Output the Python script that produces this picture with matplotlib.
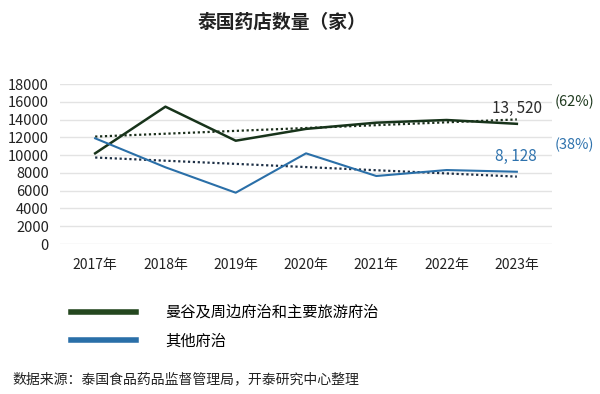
import numpy as np
import matplotlib.pyplot as plt
from matplotlib.lines import Line2D

plt.rcParams['font.family'] = ['Noto Sans CJK SC', 'DejaVu Sans']

# 数据
years = ['2017年', '2018年', '2019年', '2020年', '2021年', '2022年', '2023年']
bangkok = [10200, 15450, 11620, 12950, 13650, 13950, 13520]
others = [11890, 8630, 5770, 10200, 7650, 8320, 8128]
series_names = ['曼谷及周边府治和主要旅游府治', '其他府治']
yticks = [0, 2000, 4000, 6000, 8000, 10000, 12000, 14000, 16000, 18000]

green = '#17331a'
green_leg = '#24471f'
blue = '#2a6fa8'
blue_txt = '#2e72ad'

fig = plt.figure(figsize=(6, 3.94), dpi=100)
ax = fig.add_axes([0.1, 0.3807, 0.82, 0.4061])

x = np.arange(len(years))
ax.plot(x, bangkok, color=green, lw=1.8, zorder=3)
ax.plot(x, others, color=blue, lw=1.5, zorder=3)

# 线性趋势线
for vals, c in [(bangkok, '#1a2e1a'), (others, '#1d2f45')]:
    k, b = np.polyfit(x, vals, 1)
    ax.plot(x, k * x + b, color=c, lw=1.6, ls=(0, (1, 1.2)), zorder=2)

ax.set_xlim(-0.5, 6.5)
ax.set_ylim(0, 18000)
ax.set_yticks(yticks)
ax.set_yticklabels([str(v) for v in yticks], fontsize=10.5, color='#222222')
ax.set_xticks(x)
ax.set_xticklabels(years, fontsize=10, color='#222222')
ax.tick_params(length=0, pad=10)
ax.tick_params(axis='y', pad=8)
ax.grid(axis='y', color='#e3e3e3', lw=1)
ax.set_axisbelow(True)
for s in ax.spines.values():
    s.set_visible(False)

# 数值标注
total = bangkok[-1] + others[-1]
ax.annotate('{:,}'.format(bangkok[-1]).replace(',', ', '), xy=(6, bangkok[-1]),
            xytext=(25, 15), textcoords='offset pixels', ha='right', va='center',
            fontsize=11, color='#2b2b2b')
ax.annotate('{:,}'.format(others[-1]).replace(',', ', '), xy=(6, others[-1]),
            xytext=(20, 15), textcoords='offset pixels', ha='right', va='center',
            fontsize=11, color=blue_txt)
ax.annotate('({:.0f}%)'.format(bangkok[-1] / total * 100), xy=(6, bangkok[-1]),
            xytext=(38, 22), textcoords='offset pixels', ha='left', va='center',
            fontsize=10.5, color='#1f3a1f', annotation_clip=False)
ax.annotate('({:.0f}%)'.format(others[-1] / total * 100), xy=(6, others[-1]),
            xytext=(38, 27), textcoords='offset pixels', ha='left', va='center',
            fontsize=10.5, color=blue_txt, annotation_clip=False)

fig.text(0.47, 0.944, '泰国药店数量（家）', ha='center', va='center',
         fontsize=13.5, fontweight='bold', color='#222222')

handles = [Line2D([], [], color=green_leg, lw=4),
           Line2D([], [], color=blue, lw=4)]
fig.legend(handles, series_names, loc='center left',
           bbox_to_anchor=(0.095, 0.171), bbox_transform=fig.transFigure,
           frameon=False, fontsize=11, handlelength=4.3, handletextpad=1.9,
           labelspacing=0.75)

fig.text(0.02, 0.037, '数据来源：泰国食品药品监督管理局，开泰研究中心整理',
         ha='left', va='center', fontsize=10, color='#222222')

fig.savefig('out.png', dpi=100)
